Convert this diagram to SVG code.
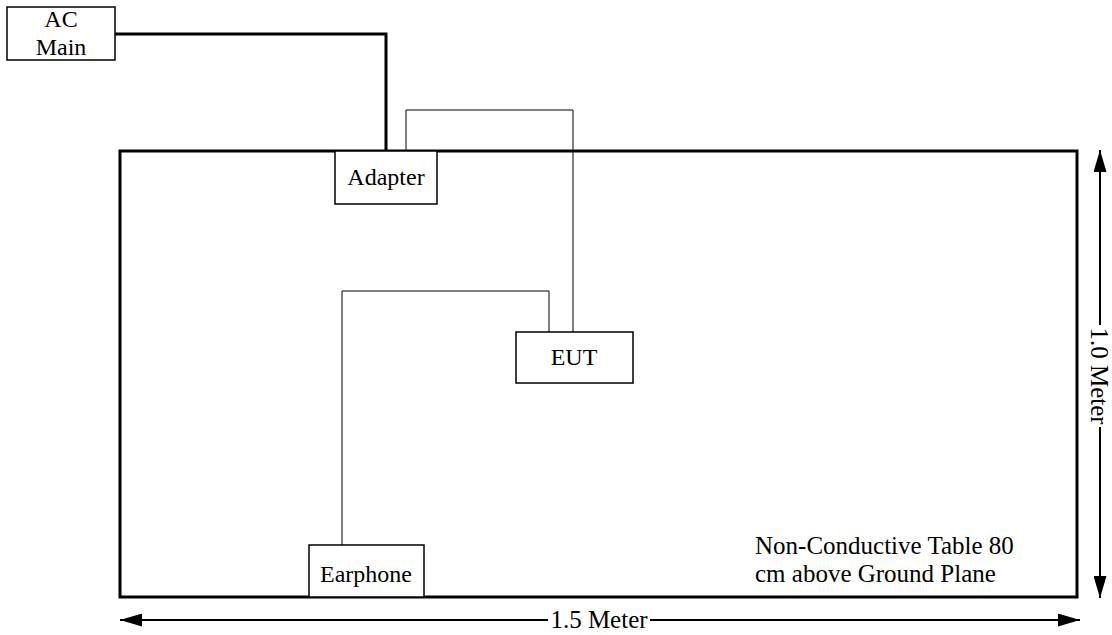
<svg xmlns="http://www.w3.org/2000/svg" width="1112" height="635" viewBox="0 0 1112 635">
<style>
.box{fill:#fff;stroke:#000;stroke-width:1.5}
.t{font-family:"Liberation Serif","Times New Roman",serif;font-size:24px;fill:#000}
.big{font-size:25px}
.thin{fill:none;stroke:#000;stroke-width:1}
.thick{fill:none;stroke:#000;stroke-width:3}
</style>
<defs>
<marker id="ah" viewBox="0 0 10 10" refX="10" refY="5" markerWidth="22" markerHeight="13" markerUnits="userSpaceOnUse" orient="auto-start-reverse" preserveAspectRatio="none">
<path d="M0,0 L10,5 L0,10 z" fill="#000"/>
</marker>
</defs>
<g id="table">
<rect x="120" y="151" width="957" height="446" fill="none" stroke="#000" stroke-width="3"/>
<text class="t big" x="755" y="554">Non-Conductive Table 80</text>
<text class="t big" x="755" y="582">cm above Ground Plane</text>
</g>
<g id="connectors">
<polyline class="thick" points="115,34 386,34 386,151"/>
<polyline class="thin" points="406,151 406,110 573,110 573,332"/>
<polyline class="thin" points="342,545 342,291 549,291 549,332"/>
<line x1="120" y1="620" x2="548" y2="620" stroke="#000" stroke-width="2" marker-start="url(#ah)"/>
<line x1="650" y1="620" x2="1080" y2="620" stroke="#000" stroke-width="2" marker-end="url(#ah)"/>
<line x1="1100" y1="150" x2="1100" y2="325" stroke="#000" stroke-width="2" marker-start="url(#ah)"/>
<line x1="1100" y1="427" x2="1100" y2="598" stroke="#000" stroke-width="2" marker-end="url(#ah)"/>
</g>
<g id="dim-h"><text class="t big" x="599" y="628" text-anchor="middle">1.5 Meter</text></g>
<g id="dim-v"><text class="t big" transform="translate(1091,376) rotate(90)" text-anchor="middle">1.0 Meter</text></g>
<g id="ac-main">
<rect class="box" x="7" y="7" width="108" height="53"/>
<text class="t" x="61" y="27" text-anchor="middle">AC</text>
<text class="t" x="61" y="55" text-anchor="middle">Main</text>
</g>
<g id="adapter">
<rect class="box" x="335" y="151" width="102" height="53"/>
<text class="t" x="386" y="185" text-anchor="middle">Adapter</text>
</g>
<g id="eut">
<rect class="box" x="516" y="332" width="117" height="51"/>
<text class="t" x="574" y="365" text-anchor="middle">EUT</text>
</g>
<g id="earphone">
<rect class="box" x="309" y="545" width="115" height="52"/>
<text class="t" x="366" y="582" text-anchor="middle">Earphone</text>
</g>
</svg>
